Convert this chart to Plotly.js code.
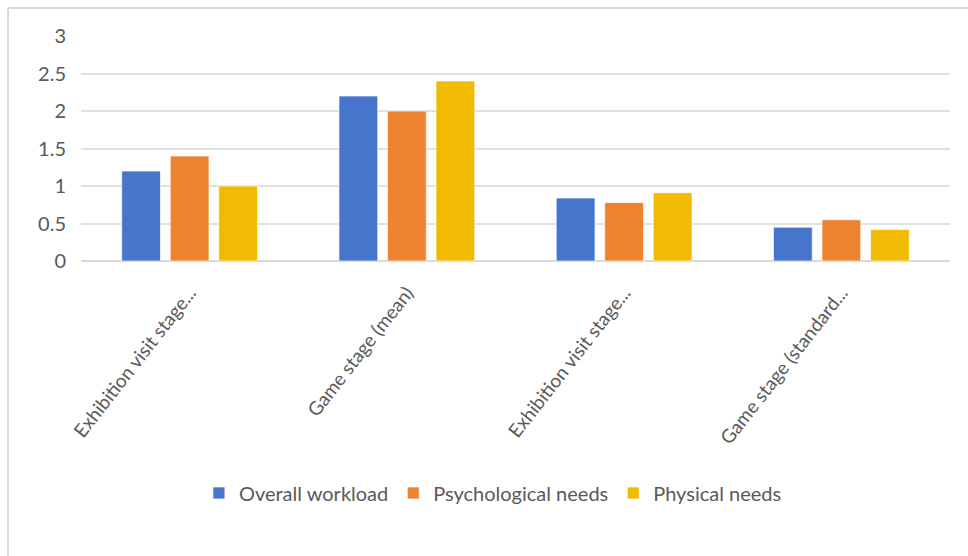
<!DOCTYPE html>
<html>
<head>
<meta charset="utf-8">
<script src="https://cdn.plot.ly/plotly-3.0.1.min.js"></script>
<style>html,body{margin:0;padding:0;background:#fff;}#chart{width:968px;height:556px;}</style>
</head>
<body>
<div id="chart"></div>
<script>
const categoryLabels = ["Exhibition visit stage...", "Game stage (mean)", "Exhibition visit stage...", "Game stage (standard..."];
const categoryIndex = [0, 1, 2, 3];
const overallWorkload = [1.2, 2.2, 0.84, 0.45];
const psychologicalNeeds = [1.4, 2.0, 0.78, 0.55];
const physicalNeeds = [1.0, 2.4, 0.91, 0.42];
const seriesNames = ["Overall workload", "Psychological needs", "Physical needs"];
const yTicks = [0, 0.5, 1, 1.5, 2, 2.5, 3];
const yTickText = ["0", "0.5", "1", "1.5", "2", "2.5", "3"];

const colors = ["#4775CB", "#EE8231", "#F1BA03"];
const seriesValues = [overallWorkload, psychologicalNeeds, physicalNeeds];
const traces = seriesValues.map((vals, i) => ({
  type: "bar",
  x: categoryIndex,
  y: vals,
  name: seriesNames[i],
  marker: {color: colors[i], line: {color: "rgba(255,255,255,0.7)", width: 1}},
  hoverinfo: "skip"
}));

const font = "Lato, Open Sans, sans-serif";
const layout = {
  width: 968, height: 556,
  margin: {l: 81, r: 18, t: 36, b: 295},
  paper_bgcolor: "#ffffff", plot_bgcolor: "#ffffff",
  barmode: "group", bargap: 0.33, bargroupgap: 0.2,
  font: {family: font, color: "#595959", size: 20},
  xaxis: {
    range: [-0.5, 3.5],
    tickvals: categoryIndex, ticktext: categoryLabels,
    tickangle: -52, ticks: "", showgrid: false, zeroline: false,
    showline: false, ticklabelstandoff: 16,
    tickfont: {family: font, size: 19, color: "#595959"}
  },
  yaxis: {
    range: [0, 3], tickvals: yTicks, ticktext: yTickText,
    showgrid: true, gridcolor: "#e0e0e0", gridwidth: 2,
    zeroline: true, zerolinecolor: "#d9d9d9", zerolinewidth: 2,
    ticks: "", ticklen: 0, ticklabelstandoff: 14,
    tickfont: {family: font, size: 20, color: "#595959"}
  },
  showlegend: true,
  legend: {
    orientation: "h", x: 0.474, xref: "paper", xanchor: "center",
    y: -1.031, yanchor: "middle",
    font: {family: font, size: 20, color: "#595959"},
    itemwidth: 30, traceorder: "normal"
  },
  shapes: [
    {type: "line", xref: "paper", yref: "paper", x0: -73/869, x1: 1.03, y0: 1 + 28/225, y1: 1 + 28/225, line: {color: "#d9d9d9", width: 2}},
    {type: "line", xref: "paper", yref: "paper", x0: -73/869, x1: -73/869, y0: 1 + 28/225, y1: -1.4, line: {color: "#d9d9d9", width: 2}}
  ]
};

Plotly.newPlot("chart", traces, layout, {displayModeBar: false, staticPlot: true});
</script>
</body>
</html>
